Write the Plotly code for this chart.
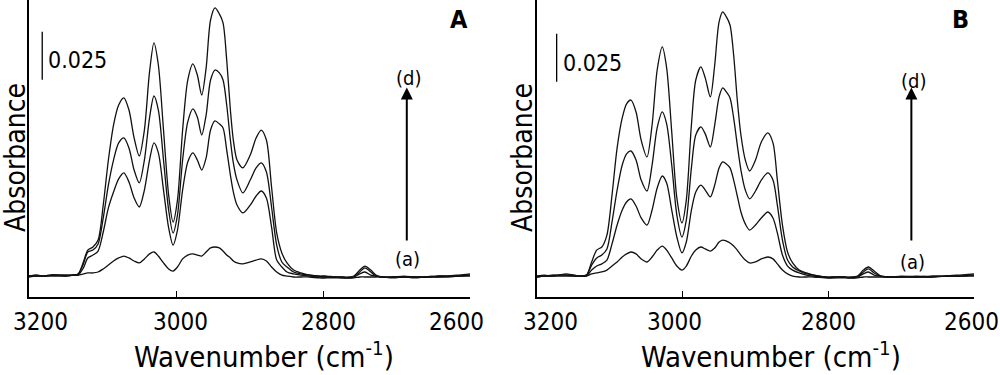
import plotly.graph_objects as go

# ---------------- data ----------------
TICK_VALS = [3200, 3000, 2800, 2600]
CURVE_NAMES = ["(a)", "(b)", "(c)", "(d)"]

WN_A = [3200, 3190, 3180, 3170, 3160, 3150, 3140, 3133, 3126, 3120,
        3113, 3106, 3099, 3092, 3085, 3078, 3071, 3064, 3057, 3050,
        3043, 3036, 3030, 3024, 3017, 3010, 3004, 2998, 2991, 2984,
        2977, 2971, 2965, 2959, 2953, 2947, 2941, 2936, 2931, 2926,
        2922, 2917, 2909, 2899, 2891, 2884, 2877, 2870, 2863, 2856,
        2849, 2840, 2830, 2818, 2805, 2795, 2785, 2775, 2765, 2758,
        2750, 2743, 2735, 2728, 2720, 2705, 2690, 2675, 2660, 2645,
        2630, 2615, 2600]

A_d = [.0005, .0010, .0005, .0010, .0010, .0010, .0010, .0016, .0078, .0140,
       .0156, .0192, .0374, .0608, .0790, .0894, .0931, .0868, .0723, .0629,
       .0764, .1066, .1217, .1102, .0764, .0426, .0286, .0400, .0764, .1024,
       .1108, .1050, .0946, .1087, .1336, .1399, .1368, .1321, .1128, .0868,
       .0712, .0608, .0567, .0634, .0723, .0764, .0712, .0468, .0229, .0125,
       .0073, .0036, .0021, .0010, .0005, .0005, 0, 0, 0, .0005,
       .0036, .0057, .0036, .0010, 0, 0, .0005, 0, 0, .0005,
       .0005, .0010, .0016]
A_c = [.0005, .0010, .0005, .0010, .0010, .0005, .0010, .0016, .0068, .0130,
       .0140, .0172, .0307, .0478, .0608, .0697, .0723, .0671, .0556, .0489,
       .0608, .0827, .0941, .0868, .0608, .0348, .0229, .0322, .0608, .0806,
       .0874, .0832, .0738, .0842, .1024, .1076, .1061, .1024, .0894, .0712,
       .0593, .0504, .0437, .0504, .0567, .0593, .0546, .0364, .0166, .0078,
       .0052, .0026, .0016, .0010, .0005, 0, 0, 0, -.0005, 0,
       .0026, .0047, .0026, .0005, 0, 0, 0, 0, 0, 0,
       .0005, .0005, .0010]
A_b = [.0005, .0005, .0005, .0010, .0010, .0010, .0010, .0010, .0047, .0099,
       .0114, .0135, .0234, .0359, .0442, .0510, .0541, .0494, .0411, .0364,
       .0452, .0608, .0697, .0645, .0452, .0255, .0166, .0244, .0452, .0598,
       .0645, .0608, .0556, .0619, .0764, .0811, .0796, .0775, .0660, .0530,
       .0442, .0374, .0333, .0374, .0421, .0447, .0411, .0260, .0088, .0052,
       .0026, .0016, .0010, .0005, 0, 0, 0, -.0005, -.0005, 0,
       .0016, .0026, .0010, .0005, 0, 0, 0, -.0005, 0, 0,
       0, .0005, .0010]
A_a = [0, .0005, .0005, .0005, .0005, .0005, .0010, .0010, .0016, .0021,
       .0021, .0026, .0042, .0062, .0083, .0099, .0109, .0099, .0083, .0073,
       .0094, .0120, .0130, .0109, .0073, .0042, .0031, .0052, .0094, .0114,
       .0120, .0114, .0109, .0130, .0151, .0156, .0151, .0135, .0114, .0099,
       .0083, .0073, .0068, .0078, .0088, .0094, .0083, .0052, .0026, .0010,
       .0005, 0, 0, 0, -.0005, -.0005, -.0005, -.0005, -.0005, -.0005,
       0, 0, 0, 0, 0, -.0005, 0, 0, 0, .0005,
       .0005, .0005, .0005]

WN_B = [3200, 3190, 3180, 3170, 3160, 3150, 3140, 3132, 3125, 3118,
        3111, 3104, 3097, 3090, 3083, 3077, 3071, 3064, 3057, 3049,
        3042, 3035, 3028, 3022, 3015, 3008, 3001, 2995, 2988, 2982,
        2975, 2969, 2962, 2956, 2950, 2945, 2940, 2935, 2930, 2925,
        2920, 2914, 2908, 2900, 2892, 2883, 2876, 2870, 2863, 2856,
        2849, 2840, 2830, 2820, 2805, 2795, 2780, 2770, 2760, 2752,
        2745, 2737, 2728, 2715, 2700, 2680, 2660, 2640, 2620, 2600]

B_d = [.0005, .0010, .0005, .0010, .0016, .0010, .0005, .0010, .0078, .0140,
       .0156, .0218, .0426, .0671, .0827, .0900, .0920, .0858, .0712, .0624,
       .0790, .1076, .1196, .1087, .0754, .0411, .0281, .0400, .0790, .1024,
       .1092, .1035, .0936, .1102, .1326, .1378, .1352, .1310, .1154, .0920,
       .0738, .0608, .0551, .0608, .0702, .0749, .0697, .0504, .0270, .0130,
       .0073, .0036, .0021, .0010, 0, 0, 0, 0, .0005, .0036,
       .0052, .0031, .0005, 0, .0005, 0, .0005, .0005, .0010, .0016]
B_c = [.0005, .0005, .0010, .0010, .0010, .0010, .0005, .0010, .0062, .0099,
       .0114, .0146, .0286, .0452, .0582, .0640, .0655, .0608, .0504, .0447,
       .0582, .0775, .0858, .0796, .0582, .0322, .0208, .0296, .0567, .0738,
       .0780, .0744, .0676, .0790, .0936, .0983, .0962, .0931, .0827, .0686,
       .0556, .0452, .0406, .0447, .0504, .0541, .0504, .0374, .0192, .0088,
       .0052, .0031, .0016, .0010, 0, 0, 0, -.0005, 0, .0026,
       .0042, .0021, .0005, 0, 0, 0, 0, .0005, .0005, .0010]
B_b = [0, .0005, .0005, .0010, .0010, .0005, .0005, .0005, .0036, .0057,
       .0068, .0088, .0172, .0270, .0348, .0390, .0406, .0369, .0307, .0270,
       .0348, .0463, .0525, .0489, .0348, .0208, .0125, .0182, .0348, .0442,
       .0478, .0452, .0416, .0478, .0567, .0598, .0588, .0567, .0504, .0421,
       .0338, .0276, .0244, .0270, .0307, .0338, .0307, .0229, .0114, .0057,
       .0036, .0021, .0010, .0005, 0, -.0005, 0, -.0005, 0, .0016,
       .0026, .0010, .0005, 0, 0, 0, 0, .0005, .0005, .0010]
B_a = [0, .0005, .0005, .0005, .0005, .0005, .0005, .0005, .0016, .0021,
       .0026, .0036, .0057, .0078, .0104, .0120, .0130, .0120, .0094, .0078,
       .0104, .0140, .0161, .0140, .0099, .0057, .0036, .0057, .0109, .0140,
       .0156, .0146, .0135, .0151, .0182, .0192, .0187, .0177, .0161, .0140,
       .0114, .0088, .0073, .0078, .0094, .0104, .0094, .0068, .0036, .0016,
       .0005, 0, 0, 0, -.0005, -.0005, -.0005, -.0005, -.0005, 0,
       0, 0, 0, 0, 0, .0005, 0, .0005, .0005, .0005]

SCALE_BAR = 0.025
ARROW_WN = 2686

# ---------------- figure ----------------
FONT = "DejaVu Sans Condensed, DejaVu Sans, Verdana, sans-serif"
fig = go.Figure()

panels = [
    dict(wn=WN_A, ys=[A_a, A_b, A_c, A_d], xa="x", ya="y"),
    dict(wn=WN_B, ys=[B_a, B_b, B_c, B_d], xa="x2", ya="y2"),
]
for p in panels:
    for name, y in zip(CURVE_NAMES, p["ys"]):
        fig.add_trace(go.Scatter(
            x=p["wn"], y=y, mode="lines", name=name,
            line=dict(color="#111111", width=1.3, shape="spline", smoothing=0.8),
            xaxis=p["xa"], yaxis=p["ya"], showlegend=False, hoverinfo="skip"))

YR = [-0.0104, 0.1440]
xcommon = dict(range=[3200, 2600], showline=True, linecolor="black", linewidth=1.6,
               ticks="inside", ticklen=6, tickwidth=1.3, tickcolor="black",
               tickvals=TICK_VALS, showticklabels=False, showgrid=False, zeroline=False)
ycommon = dict(range=YR, showline=True, linecolor="black", linewidth=1.6,
               ticks="", showticklabels=False, showgrid=False, zeroline=False)

fig.update_layout(
    width=1000, height=375,
    margin=dict(l=0, r=0, t=0, b=0),
    paper_bgcolor="white", plot_bgcolor="white",
    font=dict(family=FONT, color="black"),
    xaxis=dict(domain=[0.029, 0.470], anchor="y", **xcommon),
    yaxis=dict(domain=[0.208, 1.0], anchor="x", **ycommon),
    xaxis2=dict(domain=[0.537, 0.974], anchor="y2", **xcommon),
    yaxis2=dict(domain=[0.208, 1.0], anchor="x2", **ycommon),
)

ann = []
shapes = []
panel_cfg = [
    dict(xr="x", yr="y", shifts=[11, 4, 5, -14], title_x=0.264, abs_x=0.016,
         letter="A", letter_x=0.459, bar_x=3182, bar_y0=0.1025, lab_y=0.1128,
         d_y=0.1035, a_y=0.0094),
    dict(xr="x2", yr="y2", shifts=[13, -8, 0, -3], title_x=0.771, abs_x=0.523,
         letter="B", letter_x=0.960, bar_x=3173, bar_y0=0.1015, lab_y=0.1113,
         d_y=0.1018, a_y=0.0080),
]
for c in panel_cfg:
    for v, s in zip(TICK_VALS, c["shifts"]):
        ann.append(dict(x=v, xref=c["xr"], y=0.141, yref="paper", text=str(v),
                        showarrow=False, xshift=s, xanchor="center", yanchor="middle",
                        font=dict(size=24)))
    ann.append(dict(x=c["title_x"], xref="paper", y=0.0, yref="paper",
                    text="Wavenumber (cm<sup>-1</sup>)", showarrow=False,
                    xanchor="center", yanchor="bottom", borderpad=0,
                    font=dict(size=29)))
    ann.append(dict(x=c["abs_x"], xref="paper", y=0.579, yref="paper",
                    text="Absorbance", textangle=-90, showarrow=False,
                    xanchor="center", yanchor="middle", font=dict(size=28)))
    ann.append(dict(x=c["letter_x"], xref="paper", y=0.949, yref="paper",
                    text="<b>%s</b>" % c["letter"], showarrow=False,
                    xanchor="center", yanchor="middle", font=dict(size=25)))
    # scale bar
    shapes.append(dict(type="line", xref=c["xr"], yref=c["yr"],
                       x0=c["bar_x"], x1=c["bar_x"], y0=c["bar_y0"],
                       y1=c["bar_y0"] + SCALE_BAR,
                       line=dict(color="black", width=1.3)))
    ann.append(dict(x=c["bar_x"], xref=c["xr"], y=c["lab_y"], yref=c["yr"],
                    text="0.025", showarrow=False, xanchor="left", xshift=4,
                    yanchor="middle", font=dict(size=23)))
    # arrow (a) -> (d)
    ann.append(dict(x=ARROW_WN, y=0.0985, xref=c["xr"], yref=c["yr"],
                    ax=ARROW_WN, ay=0.0182, axref=c["xr"], ayref=c["yr"],
                    text="", showarrow=True, arrowhead=2, arrowsize=1.2,
                    arrowwidth=2, arrowcolor="black", standoff=0, startstandoff=0))
    ann.append(dict(x=ARROW_WN, y=c["d_y"], xref=c["xr"], yref=c["yr"],
                    text="(d)", showarrow=False, xanchor="center", xshift=2,
                    font=dict(size=20)))
    ann.append(dict(x=ARROW_WN, y=c["a_y"], xref=c["xr"], yref=c["yr"],
                    text="(a)", showarrow=False, xanchor="center", xshift=1,
                    font=dict(size=20)))

fig.update_layout(annotations=ann, shapes=shapes)
fig.write_html("out.html", config={"displayModeBar": False},
               post_script="document.body.style.margin='0';document.body.style.padding='0';")
